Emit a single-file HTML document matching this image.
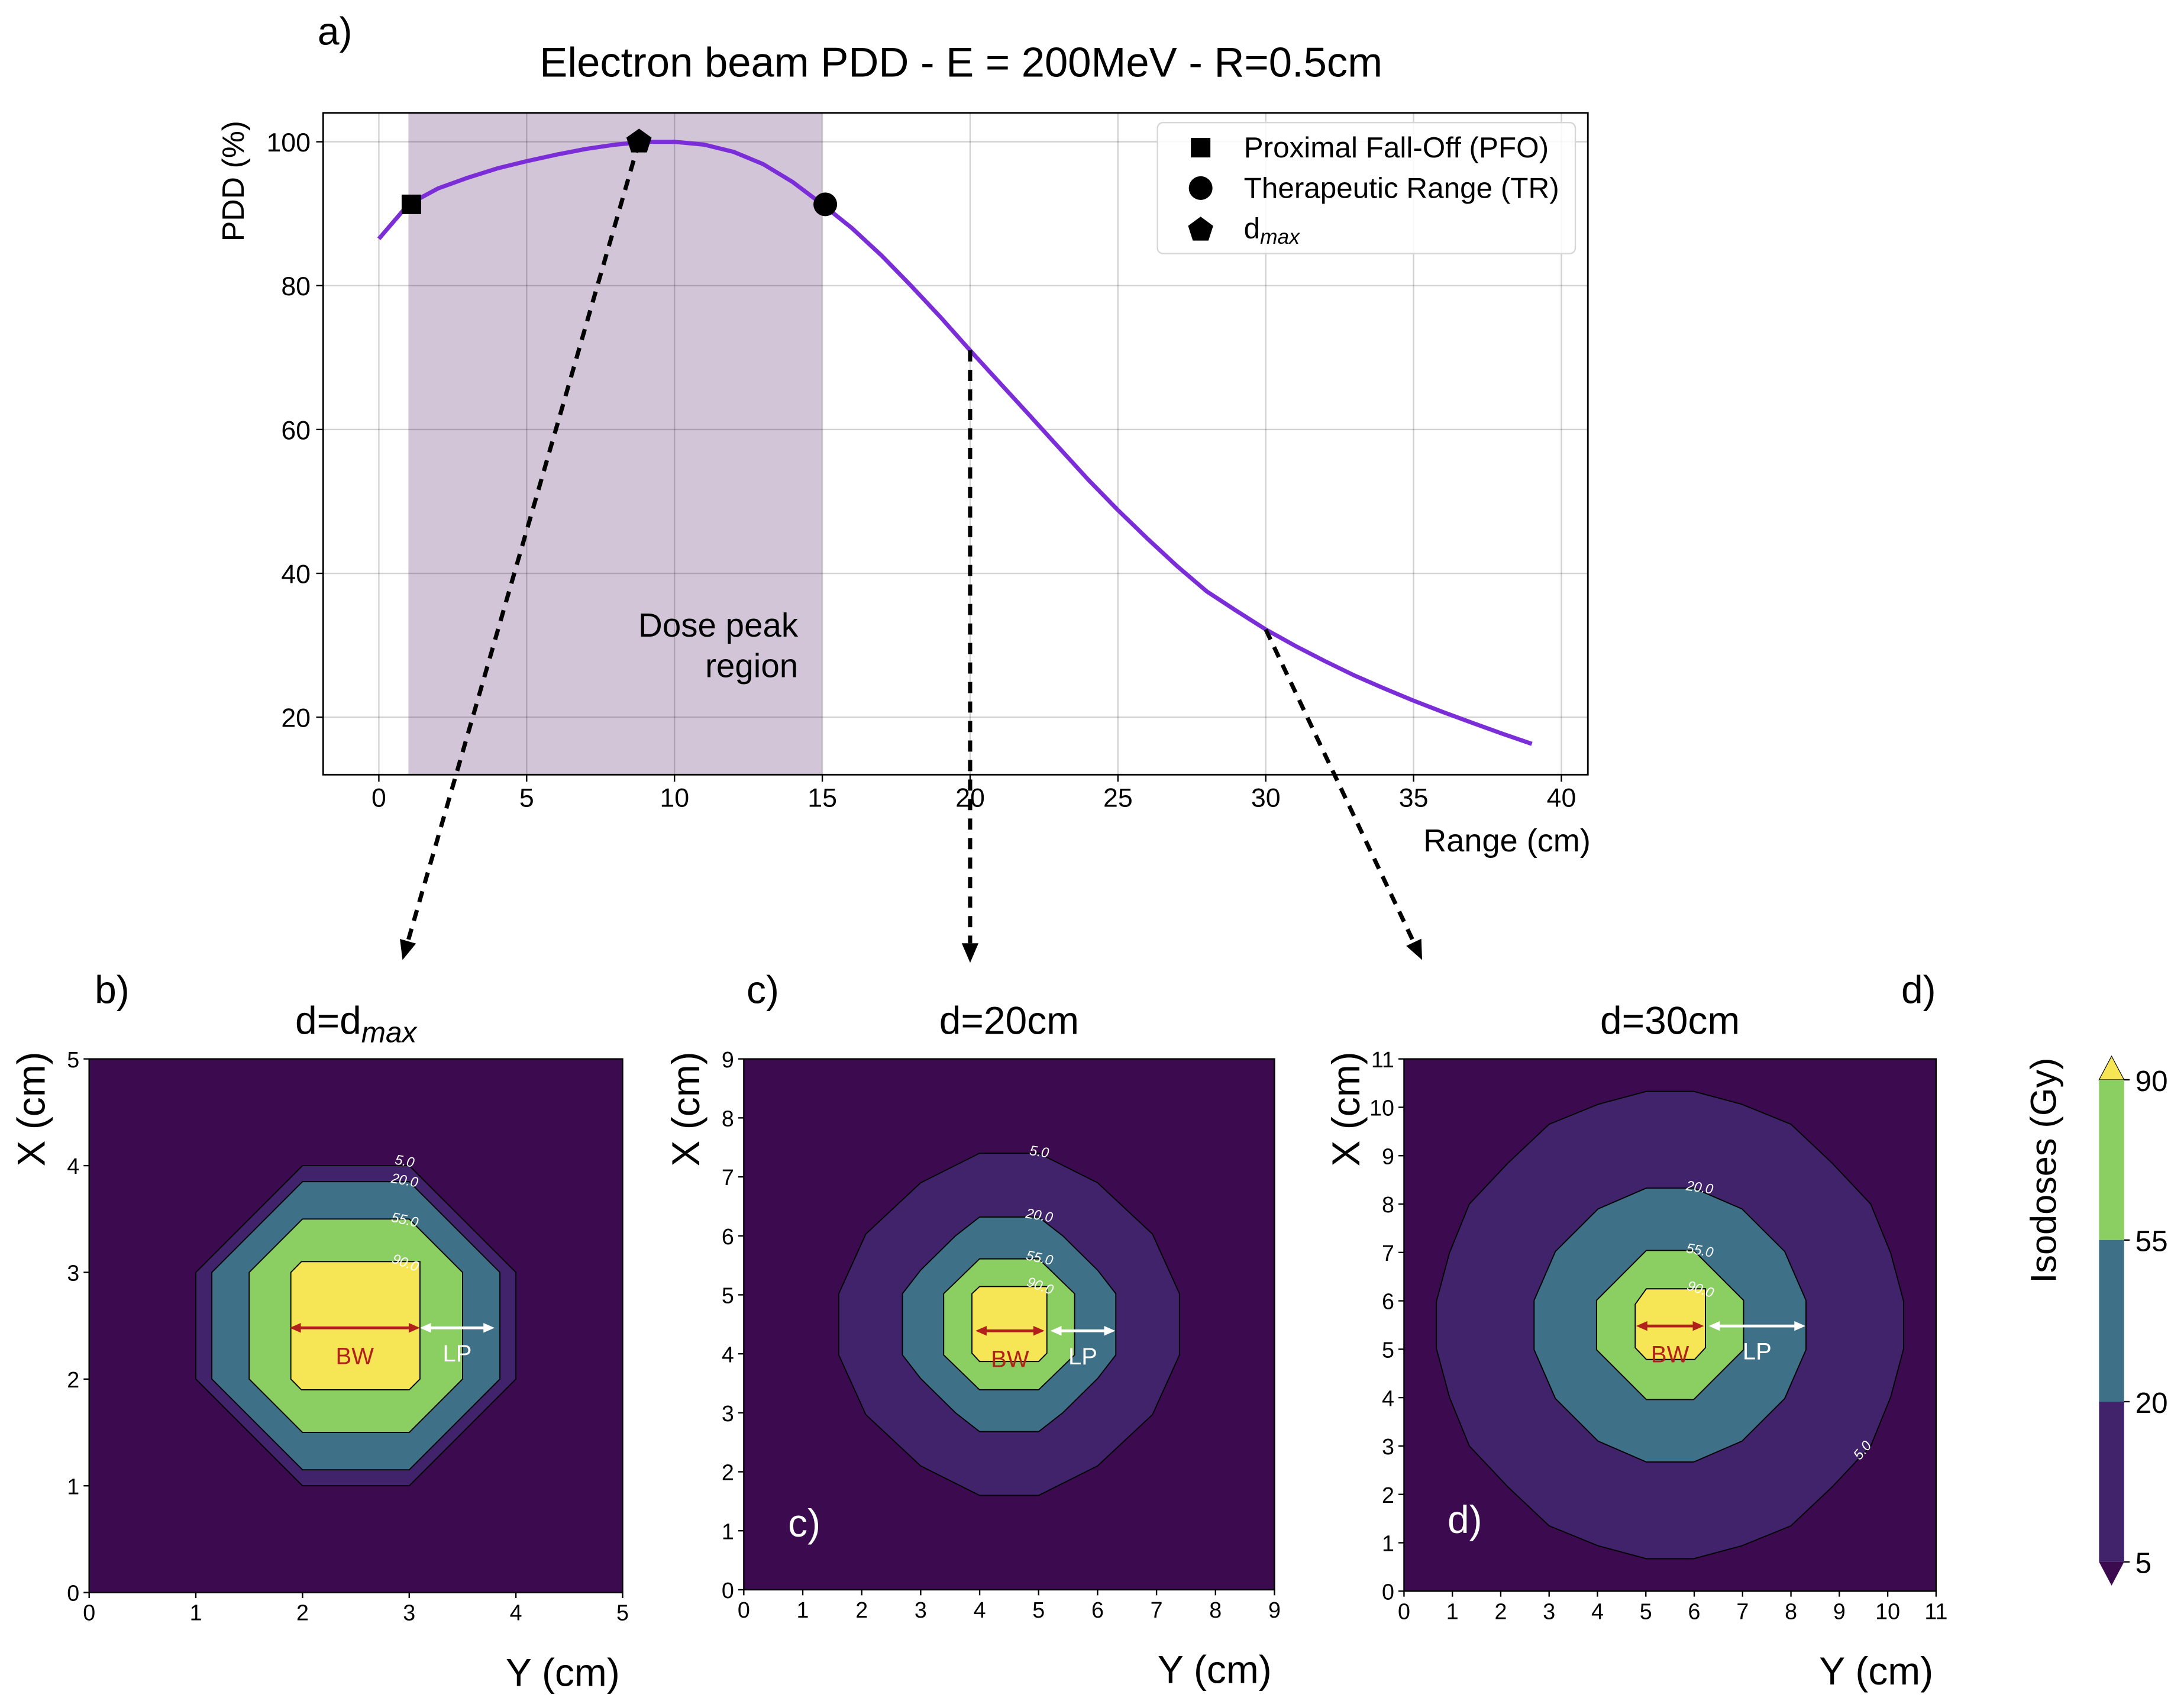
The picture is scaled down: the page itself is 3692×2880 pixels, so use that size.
<!DOCTYPE html>
<html><head><meta charset="utf-8"><style>
html,body{margin:0;padding:0;background:#fff;}
svg{display:block;font-family:"Liberation Sans","DejaVu Sans",sans-serif;}
</style></head><body>
<svg id="fig" xmlns="http://www.w3.org/2000/svg" width="3692" height="2880" viewBox="0 0 1568 1223" preserveAspectRatio="none">
<g id="topchart"></g>
<g id="panels"></g>
</svg>
<script>
// ---- PDD chart data ----
const depthCm = [0,1,2,3,4,5,6,7,8,9,10,11,12,13,14,15,16,17,18,19,20,21,22,23,24,25,26,27,28,29,30,31,32,33,34,35,36,37,38,39];
const pddValues = [86.5,91.3,93.5,95.0,96.3,97.3,98.2,99.0,99.6,100,100,99.6,98.6,96.9,94.4,91.3,88.0,84.2,80.0,75.6,71.0,66.5,62.0,57.5,53.0,48.8,44.8,41.0,37.5,34.8,32.2,29.9,27.8,25.8,24.0,22.3,20.7,19.2,17.7,16.3];
const xTicks = [0,5,10,15,20,25,30,35,40];
const yTicks = [20,40,60,80,100];
const markerPFO = [1.1,91.3];
const markerDmax = [8.8,100];
const markerTR = [15.1,91.3];
const peakRegion = [1,15];

// ---- isodose data ----
const isoLevels = [5,20,55,90];
const cbTicks = [90,55,20,5];
const bQuad5 = [[0.5,1.5],[1.5,0.5]];
const bQuad20 = [[0.5,1.35],[1.35,0.5]];
const bQuad55 = [[0.5,1.0],[1.0,0.5]];
const b90 = [[1.99,3.1],[3.1,3.1],[3.1,2.0],[3.0,1.9],[1.99,1.9],[1.89,2.0],[1.89,3.0]];
const cQuad5 = [[0.5,2.9],[1.5,2.4],[2.43,1.53],[2.89,0.52]];
const cQuad20 = [[0.5,1.82],[0.91,1.5],[1.5,0.92],[1.81,0.52]];
const cQuad55 = [[0.5,1.11],[1.11,0.52]];
const c90 = [[4,5.14],[5.14,5.14],[5.14,4.01],[5,3.87],[4,3.87],[3.87,4.01],[3.87,5.02]];
const dQuad5 = [[0.49,4.83],[1.49,4.56],[2.5,4.15],[3.35,3.35],[4.15,2.5],[4.56,1.49],[4.83,0.49]];
const dQuad20 = [[0.49,2.83],[1.49,2.4],[2.37,1.52],[2.81,0.51]];
const dQuad55 = [[0.49,1.54],[1.52,0.51]];
const d90 = [[5.01,6.25],[6.23,6.25],[6.23,5.03],[6.01,4.79],[5.01,4.79],[4.78,5.03],[4.78,5.93]];

const NS="http://www.w3.org/2000/svg";
function mk(parent,tag,attrs,text){const e=document.createElementNS(NS,tag);for(const k in attrs)e.setAttribute(k,attrs[k]);if(text!==undefined)e.textContent=text;parent.appendChild(e);return e;}

// ===== Top chart =====
const topG=document.getElementById('topchart');
const L=232,R=1140,T=81,B=556;
const sx=x=>272+x*21.225, sy=v=>618-v*5.1625;
let r=mk(topG,'rect',{x:sx(peakRegion[0]),y:T,width:sx(peakRegion[1])-sx(peakRegion[0]),height:B-T,fill:'#d3c5d8'});


xTicks.forEach(t=>{
  const l=mk(topG,'line',{x1:sx(t),x2:sx(t),y1:T,y2:B,stroke:'#000','stroke-opacity':0.18,'stroke-width':1});
  
  
  mk(topG,'line',{x1:sx(t),x2:sx(t),y1:B,y2:B+5,stroke:'#000','stroke-width':1});
  const tx=mk(topG,'text',{x:sx(t),y:B+23,'font-size':19,'text-anchor':'middle'},String(t));
  
  
});
yTicks.forEach(t=>{
  const l=mk(topG,'line',{x1:L,x2:R,y1:sy(t),y2:sy(t),stroke:'#000','stroke-opacity':0.18,'stroke-width':1});
  
  
  mk(topG,'line',{x1:L-5,x2:L,y1:sy(t),y2:sy(t),stroke:'#000','stroke-width':1});
  const tx=mk(topG,'text',{x:L-9,y:sy(t)+7,'font-size':19,'text-anchor':'end'},String(t));
  
  
});
mk(topG,'rect',{x:L,y:T,width:R-L,height:B-T,fill:'none',stroke:'#000','stroke-width':1.2});
let pts=depthCm.map((d,i)=>sx(d).toFixed(1)+','+sy(pddValues[i]).toFixed(1)).join(' ');
let curve=mk(topG,'polyline',{points:pts,fill:'none',stroke:'#7b2ed8','stroke-width':3,'stroke-linejoin':'round'});


function arrow(x1,y1,x2,y2,name){
  const g=mk(topG,'g',{});
  
  
  const ang=Math.atan2(y2-y1,x2-x1),hl=14,hw=6;
  const bx=x2-hl*Math.cos(ang),by=y2-hl*Math.sin(ang);
  mk(g,'line',{x1,y1,x2:bx,y2:by,stroke:'#000','stroke-width':3,'stroke-dasharray':'8,6'});
  const px=-Math.sin(ang)*hw,py=Math.cos(ang)*hw;
  mk(g,'polygon',{points:`${x2},${y2} ${bx+px},${by+py} ${bx-px},${by-py}`,fill:'#000'});
}
arrow(sx(markerDmax[0]),sy(markerDmax[1]),289,689,'arrow-to-dmax-panel');
arrow(sx(20),sy(pddValues[20]),sx(20),691,'arrow-to-20cm-panel');
arrow(sx(30),sy(pddValues[30]),1021,689,'arrow-to-30cm-panel');
let m=mk(topG,'rect',{x:sx(markerPFO[0])-7,y:sy(markerPFO[1])-7,width:14,height:14,fill:'#000'});


m=mk(topG,'circle',{cx:sx(markerTR[0]),cy:sy(markerTR[1]),r:8.5,fill:'#000'});


function pent(cx,cy,rr){let p=[];for(let i=0;i<5;i++){const a=-Math.PI/2+i*2*Math.PI/5;p.push((cx+rr*Math.cos(a)).toFixed(1)+','+(cy+rr*Math.sin(a)).toFixed(1));}return p.join(' ');}
m=mk(topG,'polygon',{points:pent(sx(markerDmax[0]),sy(markerDmax[1]),9.5),fill:'#000'});


const lg=mk(topG,'g',{});


mk(lg,'rect',{x:831,y:88,width:300,height:94,rx:4,fill:'#fff','fill-opacity':0.85,stroke:'#d6d6d6','stroke-width':1});
mk(lg,'rect',{x:855,y:99,width:14,height:14,fill:'#000'});
mk(lg,'circle',{cx:862,cy:135,r:8.5,fill:'#000'});
mk(lg,'polygon',{points:pent(862,165,9.5),fill:'#000'});
let le=mk(lg,'text',{x:893,y:113,'font-size':21},'Proximal Fall-Off (PFO)');

le=mk(lg,'text',{x:893,y:142,'font-size':21},'Therapeutic Range (TR)');

le=mk(lg,'text',{x:893,y:171,'font-size':21},'d');

mk(le,'tspan',{'font-size':15,'font-style':'italic',dy:4},'max');
let t=mk(topG,'text',{x:228,y:32,'font-size':28},'a)');

t=mk(topG,'text',{x:690,y:55,'font-size':30,'text-anchor':'middle'},'Electron beam PDD - E = 200MeV - R=0.5cm');

t=mk(topG,'text',{x:0,y:0,'font-size':22,'text-anchor':'middle',transform:'translate(175,130) rotate(-90)'},'PDD (%)');

t=mk(topG,'text',{x:1142,y:611,'font-size':23,'text-anchor':'end'},'Range (cm)');

t=mk(topG,'text',{x:573,y:457,'font-size':24,'text-anchor':'end'},'Dose peak');

mk(t,'tspan',{x:573,dy:29},'region');

// ===== Panels =====
const panelsG=document.getElementById('panels');
const COL={bg:'#3b0a4f',5:'#41236b',20:'#3e7088',55:'#8bcf63',90:'#f6e655'};
function mirror(q,c){
  const p=[];
  q.forEach(([dx,dy])=>p.push([c+dx,c+dy]));
  q.slice().reverse().forEach(([dx,dy])=>p.push([c+dx,c-dy]));
  q.forEach(([dx,dy])=>p.push([c-dx,c-dy]));
  q.slice().reverse().forEach(([dx,dy])=>p.push([c-dx,c+dy]));
  return p;
}
function panel(cfg){
  const g=mk(panelsG,'g',{});
  
  
  const {x0,y0,size,n}=cfg;
  const px=v=>x0+v*size/n, py=v=>y0+size-v*size/n;
  mk(g,'rect',{x:x0,y:y0,width:size,height:size,fill:COL.bg});
  cfg.polys.forEach(([lev,poly])=>{
    const p=mk(g,'polygon',{points:poly.map(([a,b])=>px(a).toFixed(1)+','+py(b).toFixed(1)).join(' '),fill:COL[lev],stroke:'#000','stroke-width':0.8});
    
    
  });
  cfg.labels.forEach(([txt,a,b,rot])=>{
    mk(g,'text',{x:px(a),y:py(b),'font-size':10,'font-style':'italic',fill:'#fff','text-anchor':'middle',transform:`rotate(${rot} ${px(a)} ${py(b)})`},txt);
  });
  const ay=py(cfg.arrowY);
  function dbl(xa,xb,col,name){
    const a=mk(g,'g',{});
    
    
    mk(a,'line',{x1:px(xa)+6,x2:px(xb)-6,y1:ay,y2:ay,stroke:col,'stroke-width':2});
    mk(a,'polygon',{points:`${px(xa)},${ay} ${px(xa)+8},${ay-3.5} ${px(xa)+8},${ay+3.5}`,fill:col});
    mk(a,'polygon',{points:`${px(xb)},${ay} ${px(xb)-8},${ay-3.5} ${px(xb)-8},${ay+3.5}`,fill:col});
  }
  dbl(cfg.bw[0],cfg.bw[1],'#b2201c','bw-arrow');
  dbl(cfg.lp[0],cfg.lp[1],'#ffffff','lp-arrow');
  let tt=mk(g,'text',{x:(px(cfg.bw[0])+px(cfg.bw[1]))/2,y:ay+26,'font-size':17,fill:'#b2201c','text-anchor':'middle'},'BW');
  
  tt=mk(g,'text',{x:(px(cfg.lp[0])+px(cfg.lp[1]))/2,y:ay+24,'font-size':17,fill:'#fff','text-anchor':'middle'},'LP');
  
  mk(g,'rect',{x:x0,y:y0,width:size,height:size,fill:'none',stroke:'#000','stroke-width':1});
  for(let i=0;i<=n;i++){
    mk(g,'line',{x1:px(i),x2:px(i),y1:y0+size,y2:y0+size+4,stroke:'#000','stroke-width':1});
    let a=mk(g,'text',{x:px(i),y:y0+size+20,'font-size':16,'text-anchor':'middle'},String(i));
    
    mk(g,'line',{x1:x0-4,x2:x0,y1:py(i),y2:py(i),stroke:'#000','stroke-width':1});
    a=mk(g,'text',{x:x0-7,y:py(i)+6,'font-size':16,'text-anchor':'end'},String(i));
    
  }
  tt=mk(g,'text',{x:x0+size/2,y:y0-18,'font-size':28,'text-anchor':'middle'},cfg.title);
  
  if(cfg.sub){mk(tt,'tspan',{'font-size':21,'font-style':'italic',dy:6},cfg.sub);}
  tt=mk(g,'text',{x:x0+size-2,y:y0+size+67,'font-size':28,'text-anchor':'end'},'Y (cm)');
  
  tt=mk(g,'text',{x:0,y:0,'font-size':28,'text-anchor':'middle',transform:`translate(${x0-32},${y0+36}) rotate(-90)`},'X (cm)');
  
  tt=mk(g,'text',{x:cfg.letter[0],y:cfg.letter[1],'font-size':28},cfg.letterTxt);
  
  if(cfg.inLetter){tt=mk(g,'text',{x:px(cfg.inLetter[0]),y:py(cfg.inLetter[1]),'font-size':28,fill:'#fff'},cfg.letterTxt);
    }
}
panel({name:'panel-dmax',x0:64,y0:760,size:383,n:5,title:'d=d',sub:'max',
  polys:[[5,mirror(bQuad5,2.5)],[20,mirror(bQuad20,2.5)],[55,mirror(bQuad55,2.5)],[90,b90]],
  labels:[['5.0',2.95,4.0,10],['20.0',2.95,3.82,10],['55.0',2.95,3.45,12],['90.0',2.95,3.05,20]],
  arrowY:2.48,bw:[1.88,3.1],lp:[3.1,3.8],letter:[68,720],letterTxt:'b)'});
panel({name:'panel-20cm',x0:534,y0:760,size:381,n:9,title:'d=20cm',
  polys:[[5,mirror(cQuad5,4.5)],[20,mirror(cQuad20,4.5)],[55,mirror(cQuad55,4.5)],[90,c90]],
  labels:[['5.0',5.0,7.35,8],['20.0',5.0,6.27,10],['55.0',5.0,5.55,12],['90.0',5.0,5.08,20]],
  arrowY:4.39,bw:[3.93,5.1],lp:[5.2,6.3],letter:[536,720],letterTxt:'c)',inLetter:[0.75,0.9]});
panel({name:'panel-30cm',x0:1008,y0:760,size:382,n:11,title:'d=30cm',
  polys:[[5,mirror(dQuad5,5.5)],[20,mirror(dQuad20,5.5)],[55,mirror(dQuad55,5.5)],[90,d90]],
  labels:[['20.0',6.1,8.25,8],['55.0',6.1,6.95,10],['90.0',6.1,6.15,18],['5.0',9.55,2.85,-50]],
  arrowY:5.48,bw:[4.8,6.2],lp:[6.3,8.3],letter:[1365,720],letterTxt:'d)',inLetter:[0.9,1.2]});

const cb=mk(panelsG,'g',{});


const cx0=1507,cx1=1525;
const cbY={90:775,55:890,20:1006,5:1121};
mk(cb,'polygon',{points:`${cx0},775 ${(cx0+cx1)/2},758 ${cx1},775`,fill:COL[90],stroke:'#000','stroke-width':0.5});
mk(cb,'rect',{x:cx0,y:cbY[90],width:cx1-cx0,height:cbY[55]-cbY[90],fill:COL[55]});
mk(cb,'rect',{x:cx0,y:cbY[55],width:cx1-cx0,height:cbY[20]-cbY[55],fill:COL[20]});
mk(cb,'rect',{x:cx0,y:cbY[20],width:cx1-cx0,height:cbY[5]-cbY[20],fill:COL[5]});
mk(cb,'polygon',{points:`${cx0},1121 ${(cx0+cx1)/2},1138 ${cx1},1121`,fill:'#3b0a4f'});
cbTicks.forEach(v=>{
  mk(cb,'line',{x1:cx1,x2:cx1+4,y1:cbY[v],y2:cbY[v],stroke:'#000','stroke-width':1});
  const a=mk(cb,'text',{x:1533,y:cbY[v]+8,'font-size':21},String(v));
  
  
});
let ct=mk(cb,'text',{x:0,y:0,'font-size':26,'text-anchor':'middle',transform:'translate(1476,840) rotate(-90)'},'Isodoses (Gy)');


</script>
</body></html>
